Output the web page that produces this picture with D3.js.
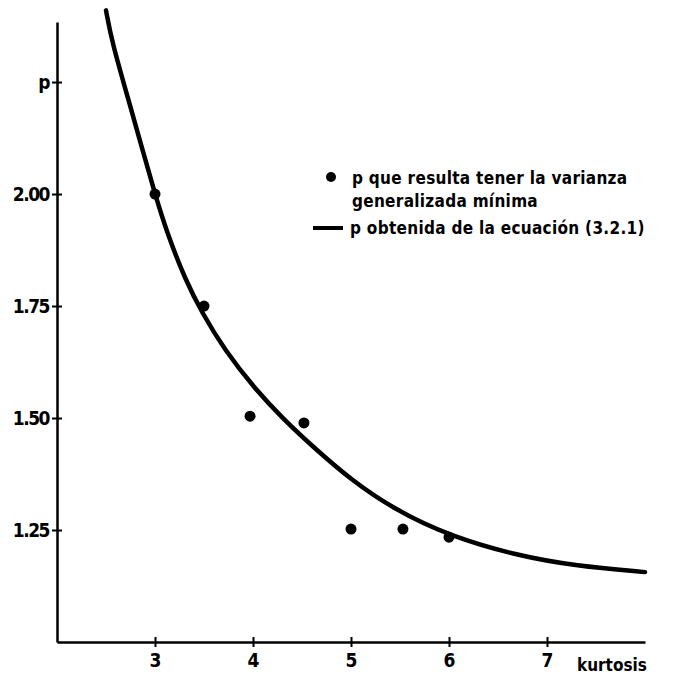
<!DOCTYPE html>
<html lang="es">
<head>
<meta charset="UTF-8">
<title>p vs kurtosis</title>
<script src="https://cdn.jsdelivr.net/npm/d3@7"></script>
<style>
  body { margin: 0; background: #fff; }
  text { font-family: "DejaVu Sans Condensed", "DejaVu Sans", sans-serif; font-weight: bold; fill: #000; }
</style>
</head>
<body>
<svg width="685" height="679"></svg>
<script>
// puntos: p que resulta tener la varianza generalizada minima
const kurtPts = [3.0, 3.5, 3.97, 4.52, 5.0, 5.53, 6.0];
const pPts = [2.0, 1.75, 1.504, 1.489, 1.252, 1.252, 1.234];

// curva: p obtenida de la ecuacion (3.2.1)
const kurtCurve = [2.50, 2.56, 2.73, 2.87, 3.0, 3.12, 3.31, 3.48, 3.71, 4.02, 4.30, 4.60, 5.01, 5.45, 6.0, 6.71, 7.29, 8.0];
const pCurve = [2.41, 2.34, 2.21, 2.10, 2.0, 1.915, 1.808, 1.735, 1.652, 1.565, 1.500, 1.438, 1.360, 1.295, 1.237, 1.192, 1.170, 1.156];

const xTicks = [3, 4, 5, 6, 7];
const yTicks = [1.25, 1.5, 1.75, 2.0, 2.25];
const yTickLabels = ["1.25", "1.50", "1.75", "2.00", "p"];

const legendLabels = ["p  que resulta tener la varianza", "generalizada  mínima", "p  obtenida de la ecuación (3.2.1)"];

const svg = d3.select("svg");

const x = d3.scaleLinear().domain([2, 8]).range([57, 645]);
const y = d3.scaleLinear().domain([1.0, 2.384]).range([642, 22]);

// eje x
const xAxis = svg.append("g")
  .attr("transform", "translate(0,642)")
  .call(d3.axisBottom(x).tickValues(xTicks).tickSize(0).tickPadding(12).tickFormat(d3.format("d")));
xAxis.select(".domain").attr("stroke", "#000").attr("stroke-width", 2.5);
xAxis.selectAll(".tick line").attr("y1", -5).attr("y2", 5).attr("stroke", "#000").attr("stroke-width", 2);
xAxis.selectAll(".tick text").attr("font-size", 19).attr("dy", "0.71em");

svg.append("text")
  .attr("x", x(7) + 30).attr("y", 671)
  .attr("font-size", 17)
  .text("kurtosis");

// eje y
const yAxis = svg.append("g")
  .attr("transform", "translate(57,0)")
  .call(d3.axisLeft(y).tickValues(yTicks).tickSize(0).tickPadding(8)
    .tickFormat((d, i) => yTickLabels[i]));
yAxis.select(".domain").attr("stroke", "#000").attr("stroke-width", 2.5);
yAxis.selectAll(".tick line").attr("x1", -5).attr("x2", 5).attr("stroke", "#000").attr("stroke-width", 2);
yAxis.selectAll(".tick text").attr("font-size", 19).attr("letter-spacing", -1.5);

// curva
const curveData = kurtCurve.map((k, i) => ({ k: k, p: pCurve[i] }));
const line = d3.line()
  .x(d => x(d.k))
  .y(d => y(d.p))
  .curve(d3.curveBasis);

svg.append("path")
  .datum(curveData)
  .attr("d", line)
  .attr("fill", "none")
  .attr("stroke", "#000")
  .attr("stroke-width", 4.5)
  .attr("stroke-linecap", "round");

// puntos
svg.selectAll("circle.pt")
  .data(kurtPts.map((k, i) => ({ k: k, p: pPts[i] })))
  .enter()
  .append("circle")
  .attr("class", "pt")
  .attr("cx", d => x(d.k))
  .attr("cy", d => y(d.p))
  .attr("r", 5.5)
  .attr("fill", "#000");

// leyenda
const leg = svg.append("g");
leg.append("circle").attr("cx", 331).attr("cy", 177).attr("r", 5).attr("fill", "#000");
leg.append("text").attr("x", 352).attr("y", 184).attr("font-size", 17).attr("letter-spacing", 0.3).text(legendLabels[0]);
leg.append("text").attr("x", 352).attr("y", 207).attr("font-size", 17).attr("letter-spacing", 0.3).text(legendLabels[1]);
leg.append("line").attr("x1", 313).attr("x2", 343).attr("y1", 228).attr("y2", 228)
  .attr("stroke", "#000").attr("stroke-width", 4);
leg.append("text").attr("x", 350).attr("y", 234).attr("font-size", 17).attr("letter-spacing", 0.3).text(legendLabels[2]);
</script>
</body>
</html>
